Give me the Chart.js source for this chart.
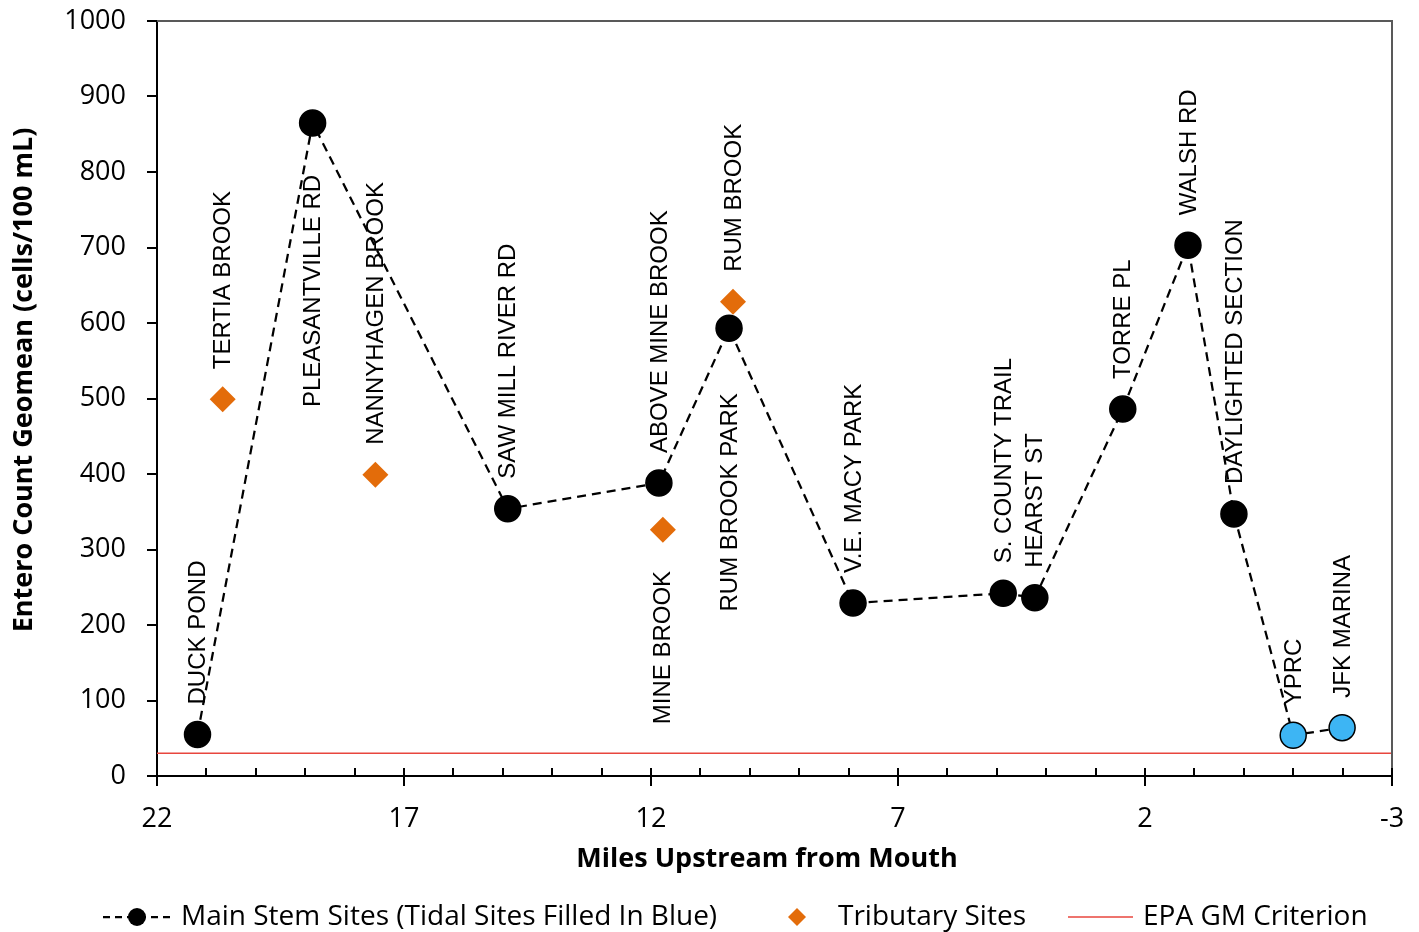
<!DOCTYPE html>
<html>
<head>
<meta charset="utf-8">
<title>Entero Count Geomean</title>
<script src="https://cdn.jsdelivr.net/npm/chart.js@4/dist/chart.umd.min.js"></script>
<style>
  html, body { margin: 0; padding: 0; background: #fff; }
  #wrap { width: 1419px; height: 932px; }
</style>
</head>
<body>
<div id="wrap"><canvas id="entero"></canvas></div>
<script>
// ---- data ----
var mainSites = ['DUCK POND', 'PLEASANTVILLE RD', 'SAW MILL RIVER RD', 'ABOVE MINE BROOK', 'RUM BROOK PARK',
  'V.E. MACY PARK', 'S. COUNTY TRAIL', 'HEARST ST', 'TORRE PL', 'WALSH RD', 'DAYLIGHTED SECTION', 'YPRC', 'JFK MARINA'];
var mainMiles = [21.18, 18.85, 14.9, 11.84, 10.42, 7.91, 4.87, 4.23, 2.45, 1.13, 0.2, -1.0, -1.99];
var mainGeomean = [55, 865, 354, 388, 593, 229, 242, 236, 486, 703, 347, 54, 64];
var mainTidal = [false, false, false, false, false, false, false, false, false, false, false, true, true];

var tribSites = ['TERTIA BROOK', 'NANNYHAGEN BROOK', 'MINE BROOK', 'RUM BROOK'];
var tribMiles = [20.67, 17.58, 11.76, 10.34];
var tribGeomean = [499, 399, 326, 628];

var epaCriterion = 30;
var xTicks = [22, 17, 12, 7, 2, -3];
var yTicks = [0, 100, 200, 300, 400, 500, 600, 700, 800, 900, 1000];

var xTitle = 'Miles Upstream from Mouth';
var yTitle = 'Entero Count Geomean (cells/100 mL)';

// labels that sit below their marker (gap in px), all others sit above
var labelBelow = { 'PLEASANTVILLE RD': 52, 'MINE BROOK': 41, 'RUM BROOK PARK': 65 };

var BLUE = '#3DB5F4';
var ORANGE = '#E36C0A';
var RED = '#E8463E';

function toPoints(xs, ys) {
  return xs.map(function (x, i) { return { x: x, y: ys[i] }; });
}

// ---- site labels, axis ticks, titles, frame and legend ----
var decor = {
  id: 'decor',
  beforeDatasetsDraw: function (chart) {
    var ctx = chart.ctx;
    ctx.save();
    ctx.font = '24px "Liberation Sans", Arial, sans-serif';
    ctx.fillStyle = '#000';
    ctx.textBaseline = 'middle';
    [[0, mainSites], [1, tribSites]].forEach(function (pair) {
      var meta = chart.getDatasetMeta(pair[0]);
      pair[1].forEach(function (name, i) {
        var el = meta.data[i];
        ctx.save();
        if (labelBelow[name] !== undefined) {
          ctx.translate(el.x, el.y + labelBelow[name]);
          ctx.rotate(-Math.PI / 2);
          ctx.textAlign = 'right';
        } else {
          ctx.translate(el.x, el.y - 30);
          ctx.rotate(-Math.PI / 2);
          ctx.textAlign = 'left';
        }
        ctx.fillText(name, 0, 1);
        ctx.restore();
      });
    });
    ctx.restore();
  },
  afterDraw: function (chart) {
    var ctx = chart.ctx;
    var a = chart.chartArea;
    var xs = chart.scales.x, ys = chart.scales.y;
    ctx.save();
    // grey frame top and right
    ctx.strokeStyle = '#595959';
    ctx.lineWidth = 2;
    ctx.beginPath();
    ctx.moveTo(a.left, a.top);
    ctx.lineTo(a.right, a.top);
    ctx.lineTo(a.right, a.bottom);
    ctx.stroke();

    // tick marks
    ctx.strokeStyle = '#000';
    ctx.lineWidth = 2;
    ctx.beginPath();
    yTicks.forEach(function (v) {
      var py = Math.round(ys.getPixelForValue(v));
      ctx.moveTo(a.left - 10, py);
      ctx.lineTo(a.left, py);
    });
    for (var m = -3; m <= 22; m++) {
      var px = Math.round(xs.getPixelForValue(m));
      if (xTicks.indexOf(m) >= 0) {
        ctx.moveTo(px, a.bottom - 8);
        ctx.lineTo(px, a.bottom + 10);
      } else {
        ctx.moveTo(px, a.bottom - 8);
        ctx.lineTo(px, a.bottom);
      }
    }
    ctx.stroke();

    // axis titles
    ctx.fillStyle = '#000';
    ctx.font = 'bold 27px "Open Sans", sans-serif';
    ctx.textAlign = 'center';
    ctx.textBaseline = 'middle';
    ctx.fillText(xTitle, 767, 859);
    ctx.save();
    ctx.translate(24, 380);
    ctx.rotate(-Math.PI / 2);
    ctx.fillText(yTitle, 0, 0);
    ctx.restore();

    // legend
    var ly = 917;
    ctx.font = '28px "Open Sans", sans-serif';
    ctx.textBaseline = 'middle';
    ctx.textAlign = 'left';
    ctx.lineWidth = 2.25;
    ctx.setLineDash([7, 5]);
    ctx.beginPath();
    ctx.moveTo(103, ly);
    ctx.lineTo(170, ly);
    ctx.stroke();
    ctx.setLineDash([]);
    ctx.beginPath();
    ctx.arc(137, ly, 9, 0, Math.PI * 2);
    ctx.fill();
    ctx.fillText('Main Stem Sites (Tidal Sites Filled In Blue)', 181, ly);

    ctx.fillStyle = ORANGE;
    ctx.beginPath();
    ctx.moveTo(797, ly - 9);
    ctx.lineTo(806, ly);
    ctx.lineTo(797, ly + 9);
    ctx.lineTo(788, ly);
    ctx.closePath();
    ctx.fill();
    ctx.fillStyle = '#000';
    ctx.fillText('Tributary Sites', 838, ly);

    ctx.strokeStyle = RED;
    ctx.lineWidth = 1.5;
    ctx.beginPath();
    ctx.moveTo(1068, ly);
    ctx.lineTo(1133, ly);
    ctx.stroke();
    ctx.fillText('EPA GM Criterion', 1143, ly);
    ctx.restore();
  }
};

var ctx = document.getElementById('entero').getContext('2d');
Chart.defaults.font.family = '"Open Sans", sans-serif';
Chart.defaults.color = '#000';

var chart = new Chart(ctx, {
  type: 'scatter',
  data: {
    datasets: [{
      label: 'Main Stem Sites (Tidal Sites Filled In Blue)',
      data: toPoints(mainMiles, mainGeomean),
      showLine: true,
      borderColor: '#000',
      borderWidth: 2.25,
      borderDash: [9, 6],
      pointRadius: 13,
      pointBackgroundColor: mainTidal.map(function (t) { return t ? BLUE : '#000'; }),
      pointBorderColor: '#000',
      pointBorderWidth: 1.5,
      clip: false
    }, {
      label: 'Tributary Sites',
      data: toPoints(tribMiles, tribGeomean),
      pointStyle: 'rectRot',
      pointRadius: 13,
      pointBackgroundColor: ORANGE,
      pointBorderWidth: 0,
      clip: false
    }, {
      label: 'EPA GM Criterion',
      data: [{ x: 22, y: epaCriterion }, { x: -3, y: epaCriterion }],
      showLine: true,
      borderColor: RED,
      borderWidth: 1.5,
      pointRadius: 0
    }]
  },
  options: {
    responsive: true,
    maintainAspectRatio: false,
    animation: false,
    layout: { padding: { left: 0, right: 27, top: 21, bottom: 50 } },
    plugins: { legend: { display: false }, tooltip: { enabled: false } },
    scales: {
      x: {
        type: 'linear',
        min: -3,
        max: 22,
        reverse: true,
        afterBuildTicks: function (scale) {
          scale.ticks = xTicks.map(function (v) { return { value: v }; });
        },
        afterFit: function (scale) {
          scale.height = 106;
          scale.paddingLeft = 0;
          scale.paddingRight = 0;
        },
        grid: { drawOnChartArea: false, drawTicks: false },
        border: { display: true, color: '#000', width: 2 },
        ticks: { font: { size: 27 }, padding: 27, maxRotation: 0, autoSkip: false,
          callback: function (v) { return String(v); } }
      },
      y: {
        min: 0,
        max: 1000,
        afterBuildTicks: function (scale) {
          scale.ticks = yTicks.map(function (v) { return { value: v }; });
        },
        afterFit: function (scale) {
          scale.width = 157;
          scale.paddingTop = 0;
          scale.paddingBottom = 0;
        },
        grid: { drawOnChartArea: false, drawTicks: false },
        border: { display: true, color: '#000', width: 2 },
        ticks: { font: { size: 27 }, padding: 31,
          callback: function (v) { return String(v); } }
      }
    }
  },
  plugins: [decor]
});
</script>
</body>
</html>
